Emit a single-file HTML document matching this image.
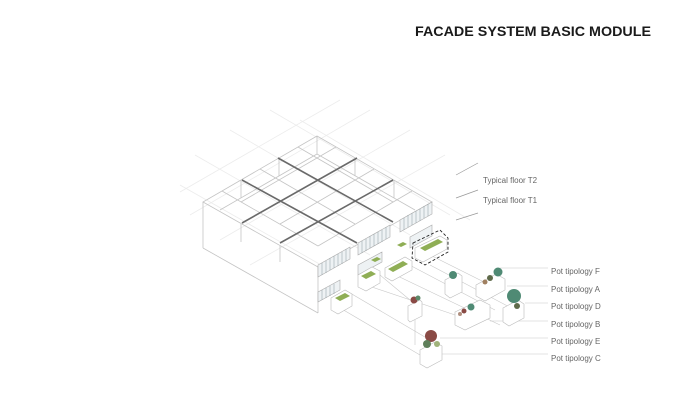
<!DOCTYPE html>
<html><head><meta charset="utf-8"><style>
html,body{margin:0;padding:0;background:#fff;width:691px;height:400px;overflow:hidden}
svg{display:block}
text{font-family:"Liberation Sans",sans-serif}
</style></head><body>
<svg width="691" height="400" viewBox="0 0 691 400" xmlns="http://www.w3.org/2000/svg">
<text x="415" y="36" font-size="14" font-weight="bold" textLength="236" lengthAdjust="spacingAndGlyphs" fill="#1a1a1a">FACADE SYSTEM BASIC MODULE</text>
<!-- faint background grid -->
<g stroke="#ececec" stroke-width="0.8">
<line x1="270" y1="110" x2="450" y2="215"/><line x1="230" y1="130" x2="410" y2="235"/><line x1="195" y1="155" x2="370" y2="255"/><line x1="180" y1="185" x2="330" y2="270"/>
<line x1="300" y1="120" x2="470" y2="220"/>
<line x1="370" y1="110" x2="190" y2="215"/><line x1="410" y1="130" x2="220" y2="240"/><line x1="445" y1="155" x2="250" y2="265"/><line x1="340" y1="100" x2="180" y2="192"/>
</g>
<!-- box outline -->
<g stroke="#c4c4c4" stroke-width="0.8" fill="none">
<polygon points="317,136 203,202 318,267 432,202"/>
<line x1="203" y1="202" x2="203" y2="248"/>
<line x1="203" y1="248" x2="318" y2="313"/>
<line x1="318" y1="267" x2="318" y2="313"/>
<line x1="317" y1="136" x2="317" y2="154"/>
<line x1="241" y1="180" x2="241" y2="198"/><line x1="279" y1="158" x2="279" y2="176"/>
<line x1="355" y1="158" x2="355" y2="176"/><line x1="394" y1="180" x2="394" y2="198"/>
<line x1="241" y1="224" x2="241" y2="242"/><line x1="280" y1="246" x2="280" y2="262"/>
<line x1="317" y1="154" x2="220" y2="210"/><line x1="317" y1="154" x2="415" y2="210"/>
<line x1="298" y1="147" x2="393" y2="202"/><line x1="336" y1="147" x2="241" y2="202"/>
<line x1="260" y1="169" x2="355" y2="224"/><line x1="374" y1="169" x2="280" y2="224"/>
<line x1="222" y1="191" x2="318" y2="246"/><line x1="412" y1="191" x2="318" y2="246"/>
</g>
<g stroke="#6a6a6a" stroke-width="1.6">
<line x1="278" y1="158" x2="393" y2="222"/>
<line x1="242" y1="180" x2="357" y2="243"/>
<line x1="357" y1="158" x2="242" y2="223"/>
<line x1="393" y1="180" x2="280" y2="243"/>
</g>
<!-- facade -->
<g stroke="#aaa" stroke-width="0.6" fill="#eef2f4">
<polygon points="318,265 350,247 350,259 318,277"/>
<polygon points="358,243 390,225 390,237 358,255"/>
<polygon points="400,220 432,202 432,214 400,232"/>
<polygon points="318,292 340,280 340,290 318,302"/>
<polygon points="358,265 382,252 382,262 358,275"/>
<polygon points="410,237 432,225 432,236 410,248"/>
</g>
<g stroke="#8a9aa0" stroke-width="0.5">
<line x1="322" y1="263" x2="322" y2="275"/><line x1="326" y1="261" x2="326" y2="273"/><line x1="330" y1="258" x2="330" y2="270"/><line x1="334" y1="256" x2="334" y2="268"/><line x1="338" y1="254" x2="338" y2="266"/><line x1="342" y1="252" x2="342" y2="264"/><line x1="346" y1="249" x2="346" y2="261"/>
<line x1="362" y1="241" x2="362" y2="253"/><line x1="366" y1="239" x2="366" y2="251"/><line x1="370" y1="236" x2="370" y2="248"/><line x1="374" y1="234" x2="374" y2="246"/><line x1="378" y1="232" x2="378" y2="244"/><line x1="382" y1="230" x2="382" y2="242"/><line x1="386" y1="227" x2="386" y2="239"/>
<line x1="404" y1="218" x2="404" y2="230"/><line x1="408" y1="215" x2="408" y2="227"/><line x1="412" y1="213" x2="412" y2="225"/><line x1="416" y1="211" x2="416" y2="223"/><line x1="420" y1="209" x2="420" y2="221"/><line x1="424" y1="206" x2="424" y2="218"/><line x1="428" y1="204" x2="428" y2="216"/>
<line x1="322" y1="290" x2="322" y2="300"/><line x1="326" y1="288" x2="326" y2="298"/><line x1="330" y1="286" x2="330" y2="296"/><line x1="334" y1="284" x2="334" y2="294"/>
</g>
<!-- projection lines -->
<g stroke="#c8c8c8" stroke-width="0.6" fill="none">
<line x1="345" y1="290" x2="430" y2="340"/><line x1="335" y1="305" x2="420" y2="355"/>
<line x1="360" y1="283" x2="470" y2="320"/><line x1="385" y1="270" x2="500" y2="325"/>
<line x1="400" y1="260" x2="495" y2="310"/><line x1="420" y1="250" x2="490" y2="285"/>
<line x1="430" y1="265" x2="515" y2="310"/><line x1="380" y1="275" x2="410" y2="300"/>
<line x1="415" y1="320" x2="415" y2="345"/>
<line x1="440" y1="338" x2="548" y2="338"/><line x1="440" y1="354" x2="548" y2="354"/>
<line x1="500" y1="268" x2="548" y2="268"/><line x1="507" y1="286" x2="548" y2="286"/>
<line x1="525" y1="303" x2="548" y2="303"/><line x1="490" y1="321" x2="548" y2="321"/>
</g>
<g stroke="#999" stroke-width="0.7">
<line x1="456" y1="175" x2="478" y2="163"/><line x1="456" y1="198" x2="478" y2="190"/><line x1="456" y1="220" x2="478" y2="213"/>
</g>
<!-- pots / planters -->
<g stroke="#bbb" stroke-width="0.6" fill="#fff">
<polygon points="331,298 345,290 352,294 352,306 338,314 331,310"/>
<polygon points="358,275 372,267 380,271 380,283 366,291 358,287"/>
<polygon points="385,268 405,257 412,261 412,270 392,281 385,277"/>
<polygon points="415,248 440,236 447,240 447,249 423,262 415,258"/>
<polygon points="408,306 420,300 422,302 422,316 410,322 408,320"/>
<polygon points="420,350 435,342 442,346 442,360 427,368 420,364"/>
<polygon points="445,280 458,273 462,276 462,292 450,298 445,294"/>
<polygon points="476,285 496,274 505,279 505,290 485,301 476,296"/>
<polygon points="455,312 480,300 490,305 490,318 465,330 455,325"/>
<polygon points="503,308 518,300 524,304 524,318 509,326 503,322"/>
</g>
<polygon points="413,243 440,230 448,238 448,252 425,265 412,258" fill="none" stroke="#222" stroke-width="0.9" stroke-dasharray="3,2"/>
<g fill="#8fae55">
<polygon points="335,298 345,293 350,296 340,301"/>
<polygon points="361,276 371,271 376,274 366,279"/>
<polygon points="388,269 403,261 408,264 393,272"/>
<polygon points="420,248 438,239 443,242 425,251"/>
<polygon points="371,260 377,257 381,259 375,262"/>
<polygon points="397,245 403,242 407,244 401,247"/>
</g>
<!-- plants -->
<g>
<circle cx="431" cy="336" r="6" fill="#8a4a45"/><circle cx="427" cy="344" r="4" fill="#5f7f5a"/><circle cx="437" cy="344" r="3" fill="#a0b37a"/>
<circle cx="414" cy="300" r="3.5" fill="#8a4a45"/><circle cx="418" cy="298" r="2.5" fill="#5d8a6a"/>
<circle cx="453" cy="275" r="4" fill="#4f8a74"/>
<circle cx="498" cy="272" r="4.5" fill="#4f8a74"/><circle cx="490" cy="278" r="3" fill="#5f6a4a"/><circle cx="485" cy="282" r="2.5" fill="#a08060"/>
<circle cx="514" cy="296" r="7" fill="#4f8a74"/><circle cx="517" cy="306" r="3" fill="#5f6a4a"/>
<circle cx="471" cy="307" r="3.5" fill="#4f8a74"/><circle cx="464" cy="311" r="2.5" fill="#8a4a45"/><circle cx="460" cy="314" r="2" fill="#b09080"/>
</g>
<g font-size="8" fill="#666">
<text x="483" y="183">Typical floor T2</text>
<text x="483" y="203">Typical floor T1</text>
<text x="551" y="274">Pot tipology F</text>
<text x="551" y="292">Pot tipology A</text>
<text x="551" y="309">Pot tipology D</text>
<text x="551" y="327">Pot tipology B</text>
<text x="551" y="344">Pot tipology E</text>
<text x="551" y="361">Pot tipology C</text>
</g>
</svg>
</body></html>
